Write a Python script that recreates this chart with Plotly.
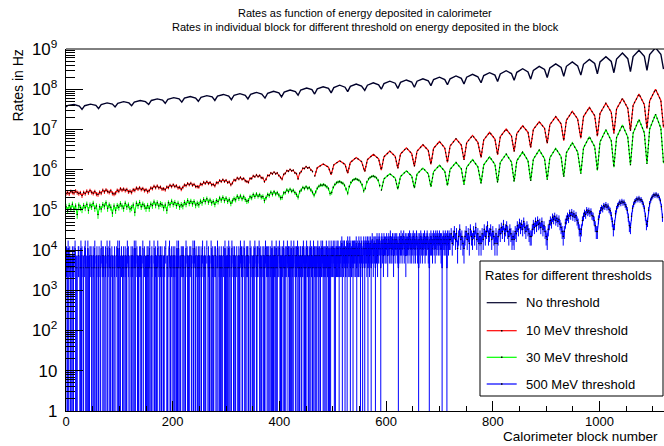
import math
import plotly.graph_objects as go

# ---------------- data ----------------
HZ_PER_COUNT = 3650.0  # rate of one count (quantised levels of the 500 MeV series)

# block numbers of the sampled points for the smooth oscillating curves
arch_x = [0, 4, 15, 25,
          30, 35, 46, 56, 61, 66, 77, 87, 92, 97, 108, 118, 123, 128, 139, 149,
          155, 160, 171, 181, 186, 191, 202, 212, 217, 222, 233, 243, 248, 253, 264, 274,
          279, 284, 295, 305, 310, 315, 326, 336, 341, 346, 357, 367, 373, 378, 389, 399,
          404, 409, 420, 430, 435, 440, 451, 461, 466, 471, 482, 492, 497, 502, 513, 523,
          528, 533, 544, 554, 560, 565, 576, 586, 591, 596, 607, 617, 622, 627, 638, 648,
          653, 658, 669, 679, 684, 689, 700, 710, 715, 720, 731, 741, 746, 751, 762, 772,
          778, 783, 794, 804, 809, 814, 825, 835, 840, 845, 856, 866, 871, 876, 887, 897,
          902, 907, 918, 928, 933, 938, 949, 959, 965, 970, 981, 991, 996, 1001, 1012, 1022,
          1027, 1032, 1043, 1053, 1058, 1063, 1074, 1084, 1089, 1094, 1105, 1115, 1120]

# No threshold: log10(rate in Hz)
no_threshold_log10 = [7.56, 7.60, 7.62, 7.58,
    7.50, 7.59, 7.63, 7.60, 7.52, 7.62, 7.66, 7.63, 7.56, 7.65, 7.69, 7.66,
    7.59, 7.68, 7.72, 7.69, 7.62, 7.72, 7.76, 7.73, 7.65, 7.75, 7.79, 7.76,
    7.68, 7.78, 7.82, 7.78, 7.70, 7.80, 7.84, 7.81, 7.72, 7.83, 7.87, 7.83,
    7.74, 7.85, 7.89, 7.85, 7.76, 7.87, 7.92, 7.88, 7.78, 7.90, 7.95, 7.91,
    7.81, 7.93, 7.98, 7.94, 7.85, 7.98, 8.03, 7.99, 7.88, 8.01, 8.06, 8.02,
    7.91, 8.04, 8.10, 8.05, 7.94, 8.07, 8.13, 8.08, 7.97, 8.10, 8.16, 8.11,
    8.00, 8.14, 8.20, 8.15, 8.02, 8.17, 8.23, 8.18, 8.05, 8.20, 8.26, 8.21,
    8.09, 8.24, 8.30, 8.24, 8.11, 8.26, 8.33, 8.27, 8.13, 8.30, 8.37, 8.31,
    8.16, 8.34, 8.41, 8.35, 8.19, 8.38, 8.46, 8.39, 8.22, 8.42, 8.51, 8.43,
    8.25, 8.47, 8.57, 8.49, 8.29, 8.53, 8.63, 8.54, 8.32, 8.57, 8.68, 8.58,
    8.35, 8.62, 8.74, 8.64, 8.38, 8.68, 8.81, 8.69, 8.41, 8.75, 8.90, 8.76,
    8.44, 8.81, 8.97, 8.82, 8.47, 8.86, 9.03, 8.87, 8.50]

# 10 MeV threshold: noisy low part (counts every 3 blocks), then smooth part (log10 Hz)
red_noisy_x = list(range(0, 463, 3))
red_noisy_counts = [70, 74, 69, 79, 75, 72, 81, 74, 70, 73,
    62, 74, 70, 80, 73, 83, 75, 71, 78, 68, 66,
    75, 72, 84, 77, 86, 79, 75, 82, 71, 68,
    72, 84, 80, 92, 85, 90, 83, 88, 77, 80,
    75, 87, 84, 96, 90, 98, 88, 93, 83, 87, 78,
    83, 96, 93, 106, 98, 108, 97, 101, 90, 92,
    87, 101, 99, 112, 104, 115, 105, 109, 97, 100, 89,
    99, 114, 110, 124, 116, 126, 113, 118, 105, 104,
    102, 120, 117, 133, 125, 137, 124, 131, 116, 118,
    109, 130, 129, 148, 139, 154, 140, 149, 132, 136, 116,
    128, 152, 149, 171, 161, 176, 159, 166, 145, 139,
    134, 166, 166, 192, 183, 202, 185, 196, 172, 171, 140,
    158, 196, 197, 226, 216, 237, 217, 226, 196, 176,
    160, 208, 222, 259, 252, 278, 256, 264, 229, 217,
    164, 222, 246, 295, 294, 326, 302, 310, 270, 248]
red_smooth_log10 = [5.83, 6.05, 6.14, 6.06, 5.87, 6.12, 6.22, 6.13,
    5.91, 6.18, 6.30, 6.20, 5.95, 6.25, 6.38, 6.27, 5.99, 6.32, 6.46, 6.33,
    6.03, 6.39, 6.54, 6.40, 6.08, 6.46, 6.62, 6.48, 6.13, 6.53, 6.70, 6.54,
    6.18, 6.59, 6.77, 6.61, 6.24, 6.67, 6.85, 6.68, 6.30, 6.74, 6.93, 6.76,
    6.37, 6.82, 7.01, 6.84, 6.45, 6.90, 7.09, 6.93, 6.55, 7.00, 7.19, 7.03,
    6.65, 7.12, 7.32, 7.14, 6.72, 7.23, 7.45, 7.26, 6.78, 7.32, 7.55, 7.34,
    6.83, 7.40, 7.65, 7.43, 6.90, 7.51, 7.77, 7.53, 6.96, 7.60, 7.88, 7.62,
    7.02, 7.71, 8.00, 7.72, 7.05]

# 30 MeV threshold
green_noisy_x = list(range(0, 589, 3))
green_noisy_counts = [33, 27, 35, 30, 38, 29, 34, 21, 36, 31,
    28, 35, 31, 38, 27, 36, 33, 40, 30, 34, 21,
    33, 29, 37, 34, 41, 30, 36, 32, 23, 34,
    27, 35, 32, 39, 34, 30, 40, 33, 36, 29,
    31, 36, 24, 40, 35, 42, 33, 38, 34, 30, 35,
    30, 38, 35, 43, 36, 41, 34, 39, 37, 31,
    36, 27, 41, 37, 45, 38, 42, 35, 40, 33, 37,
    34, 42, 38, 47, 40, 45, 39, 44, 36, 40,
    37, 45, 41, 50, 44, 52, 43, 48, 41, 44,
    38, 47, 44, 54, 48, 56, 47, 53, 45, 49, 40,
    46, 52, 49, 60, 53, 61, 52, 58, 50, 45,
    47, 58, 55, 66, 59, 68, 60, 65, 57, 59, 47,
    55, 66, 63, 75, 67, 77, 68, 73, 64, 55,
    56, 72, 74, 86, 79, 89, 80, 84, 74, 66,
    57, 77, 86, 99, 93, 103, 94, 98, 86, 75,
    64, 76, 95, 106, 114, 112, 117, 110, 103, 92, 70,
    74, 100, 118, 130, 135, 139, 131, 126, 112, 90,
    72, 105, 132, 148, 157, 163, 156, 150, 136, 115, 82,
    95, 135, 160, 176, 185, 190, 182, 170, 150, 110]
green_smooth_log10 = [5.48, 5.77, 5.90, 5.79, 5.51, 5.83, 5.97, 5.84,
    5.54, 5.89, 6.04, 5.90, 5.57, 5.95, 6.11, 5.96, 5.60, 6.01, 6.18, 6.02,
    5.63, 6.06, 6.25, 6.07, 5.66, 6.12, 6.32, 6.13, 5.68, 6.18, 6.39, 6.19,
    5.70, 6.22, 6.44, 6.22, 5.72, 6.26, 6.49, 6.27, 5.75, 6.30, 6.53, 6.32,
    5.82, 6.42, 6.67, 6.44, 5.90, 6.54, 6.82, 6.57, 5.98, 6.69, 6.99, 6.72,
    6.06, 6.80, 7.11, 6.81, 6.11, 6.91, 7.25, 6.92, 6.14, 7.01, 7.38, 7.03, 6.16]

# 500 MeV threshold: counts per block for blocks 0..719 (one digit per block)
blue_low_counts_text = """
1201310211 0121120310 1102201131 2011023110 1310120211 0211301120
1120113021 2101210312 0131102110 1210021311 3110201121 0211130210
1021120131 1302111021 2110310201 0121211301 1201031121 1130210211
2011120301 1102311021 0211201131 1310112021 2101130211 1120211031
0311201121 1201123011 2110301211 1031121102 2101310211 1211020131
0121131201 1302112110 2011211302 1120311021 2211031201 1121302112
2031121102 1211302121 2102113121 1221311202 3112102131 1212031221
2131121302 1221312112 2112231121 1322112131 2211312212 1231221132
2312122131 2213121322 2321312232 3212232413 2331223142 3241322313
2332413224 3214321343 1343241342 3413532434 1435243543 1453425434
3542453463 4354254354 5341453464 3546345245 4354635435 4635435643
5145364534 5463454653 4154645356 4536546545 6453514654 5645165465
"""
# and counts every 2 blocks for blocks 720..1118
blue_high_x = list(range(720, 1120, 2))
blue_high_counts = [5, 7, 4, 6, 8, 5, 7, 3, 6, 9, 5, 6, 4,
    3, 6, 8, 5, 7, 4, 9, 6, 5, 8, 6, 10, 5, 7, 4, 6,
    4, 7, 5, 9, 6, 8, 11, 6, 7, 9, 5, 8, 6, 4, 7,
    4, 6, 9, 7, 10, 8, 12, 7, 9, 11, 8, 6, 9, 7, 5, 6,
    5, 8, 7, 11, 9, 13, 10, 12, 9, 14, 10, 8, 11, 9, 7, 6,
    6, 9, 12, 10, 14, 11, 15, 12, 13, 10, 14, 9, 11, 8, 6,
    5, 9, 12, 15, 13, 18, 16, 19, 15, 17, 14, 16, 12, 10, 8, 6,
    8, 13, 16, 19, 17, 23, 20, 24, 19, 22, 18, 20, 15, 13, 9, 7,
    9, 15, 19, 23, 21, 27, 24, 26, 23, 25, 20, 19, 15, 11, 8,
    8, 16, 22, 27, 31, 29, 35, 33, 37, 32, 34, 28, 26, 20, 14, 9,
    12, 22, 29, 35, 38, 43, 40, 45, 41, 43, 37, 33, 27, 18, 11,
    10, 19, 30, 38, 44, 47, 52, 49, 54, 48, 50, 44, 38, 30, 19, 12,
    14, 27, 39, 48, 55, 60, 66, 62, 68, 61, 63, 55, 46, 33, 18]

legend_labels = ["No threshold", "10 MeV threshold", "30 MeV threshold", "500 MeV threshold"]
series_colors = ["#00002a", "#ff0000", "#00ff00", "#0000ff"]

# ---------------- helpers ----------------
def counts_to_rate(counts):
    return [c * HZ_PER_COUNT if c > 0 else None for c in counts]

def counts_to_err(counts):
    return [math.sqrt(c) * HZ_PER_COUNT for c in counts]

def from_log10(vals):
    return [10 ** v for v in vals]

blue_low_counts = [int(ch) for ch in "".join(blue_low_counts_text.split())]
blue_low_x = list(range(len(blue_low_counts)))
red_smooth_x = arch_x[arch_x.index(466):]
green_smooth_x = arch_x[arch_x.index(591):]

assert len(arch_x) == len(no_threshold_log10)
assert len(red_noisy_x) == len(red_noisy_counts)
assert len(green_noisy_x) == len(green_noisy_counts)
assert len(red_smooth_x) == len(red_smooth_log10)
assert len(green_smooth_x) == len(green_smooth_log10)
assert len(blue_high_x) == len(blue_high_counts)

# ---------------- figure ----------------
W, H = 664, 446
ML, MR, MT, MB = 66, 0, 49, 35
PW, PH = W - ML - MR, H - MT - MB

def px(x):
    return (x - ML) / PW

def py(y):
    return (H - MB - y) / PH

FONT = "Liberation Sans, Arial, Helvetica, sans-serif"
fig = go.Figure()

def noisy_trace(x, counts, color, shape="linear", msize=1.6, mcolor="black"):
    return go.Scatter(
        x=x, y=counts_to_rate(counts), mode="lines+markers",
        line=dict(color=color, width=1, shape=shape),
        marker=dict(color=mcolor, size=msize, line=dict(width=0)),
        error_y=dict(type="data", symmetric=True, array=counts_to_err(counts),
                     color=color, thickness=1, width=0),
        connectgaps=False, hoverinfo="skip", showlegend=False)

def smooth_traces(x, logs, color):
    return [
        go.Scatter(x=x, y=from_log10(logs), mode="lines",
                   line=dict(color=color, width=1.2), hoverinfo="skip", showlegend=False),
        go.Scatter(x=x, y=from_log10(logs), mode="lines",
                   line=dict(color="black", width=1.1, dash="1.5px,2.5px"),
                   hoverinfo="skip", showlegend=False),
    ]

fig.add_trace(go.Scatter(x=arch_x, y=from_log10(no_threshold_log10), mode="lines",
                         line=dict(color=series_colors[0], width=1.4),
                         hoverinfo="skip", showlegend=False))
fig.add_trace(noisy_trace(red_noisy_x, red_noisy_counts, series_colors[1], msize=1.5))
for tr in smooth_traces(red_smooth_x, red_smooth_log10, series_colors[1]):
    fig.add_trace(tr)
fig.add_trace(noisy_trace(green_noisy_x, green_noisy_counts, series_colors[2], msize=1.5))
for tr in smooth_traces(green_smooth_x, green_smooth_log10, series_colors[2]):
    fig.add_trace(tr)
fig.add_trace(noisy_trace(blue_low_x, blue_low_counts, series_colors[3], shape="hvh",
                          msize=1.2, mcolor="rgba(0,0,0,0.45)"))
fig.add_trace(noisy_trace(blue_high_x, blue_high_counts, series_colors[3], msize=1.5))

# ---------------- legend (drawn by hand, ROOT TLegend style) ----------------
shapes = [
    dict(type="line", xref="paper", yref="paper", x0=0, x1=1.02, y0=1, y1=1,
         line=dict(color="black", width=1), layer="above"),
    dict(type="rect", xref="paper", yref="paper", x0=px(480), x1=px(663),
         y0=py(396), y1=py(261), fillcolor="white",
         line=dict(color="black", width=1), layer="above"),
]
annotations = []
rows = [302.7, 330.7, 357.3, 384.0]
for i, (lab, col) in enumerate(zip(legend_labels, series_colors)):
    yy = py(rows[i])
    shapes.append(dict(type="line", xref="paper", yref="paper", x0=px(486.7), x1=px(516.7),
                       y0=yy, y1=yy, line=dict(color=col, width=1.2), layer="above"))
    if i > 0:
        shapes.append(dict(type="line", xref="paper", yref="paper", x0=px(501), x1=px(502.5),
                           y0=yy, y1=yy, line=dict(color="black", width=1.6), layer="above"))
    annotations.append(dict(x=px(524), y=yy, xref="paper", yref="paper", text=lab,
                            showarrow=False, xanchor="left", yanchor="middle",
                            font=dict(family=FONT, size=13, color="black")))
annotations.append(dict(x=px(568), y=py(275), xref="paper", yref="paper",
                        text="Rates for different thresholds", showarrow=False,
                        xanchor="center", yanchor="middle",
                        font=dict(family=FONT, size=13, color="black")))

# titles
annotations += [
    dict(x=px(365), y=py(13), xref="paper", yref="paper",
         text="Rates as function of energy deposited in calorimeter",
         showarrow=False, xanchor="center", yanchor="middle",
         font=dict(family=FONT, size=11, color="black")),
    dict(x=px(365), y=py(27.5), xref="paper", yref="paper",
         text="Rates in individual block for different threshold on energy deposited in the block",
         showarrow=False, xanchor="center", yanchor="middle",
         font=dict(family=FONT, size=11, color="black")),
    dict(x=px(17.5), y=py(48), xref="paper", yref="paper", text="Rates in Hz",
         textangle=-90, showarrow=False, xanchor="center", yanchor="top",
         font=dict(family=FONT, size=14, color="black")),
    dict(x=px(660), y=py(446), xref="paper", yref="paper", text="Calorimeter block number",
         showarrow=False, xanchor="right", yanchor="bottom",
         font=dict(family=FONT, size=13.5, color="black")),
]

fig.update_layout(
    width=W, height=H, autosize=False,
    margin=dict(l=ML, r=MR, t=MT, b=MB, pad=0),
    paper_bgcolor="white", plot_bgcolor="white",
    showlegend=False, shapes=shapes, annotations=annotations,
    font=dict(family=FONT, size=13, color="black"),
    xaxis=dict(range=[0, PW / 0.5335], showline=True, linecolor="black", linewidth=1,
               mirror=False, showgrid=False, zeroline=False,
               ticks="inside", ticklen=10, tickcolor="black", tickwidth=1,
               tick0=0, dtick=200, tickfont=dict(family=FONT, size=13),
               ticklabelstandoff=-2,
               minor=dict(ticks="inside", ticklen=5, dtick=50, tickcolor="black", showgrid=False)),
    yaxis=dict(type="log", range=[0, 9], showline=True, linecolor="black", linewidth=1,
               mirror=False, showgrid=False, zeroline=False,
               ticks="inside", ticklen=17, tickcolor="black", tickwidth=1,
               dtick=1, exponentformat="power", ticklabelstandoff=5,
               tickfont=dict(family=FONT, size=13.5),
               minor=dict(ticks="inside", ticklen=9, dtick="D1", tickcolor="black", showgrid=False)),
)

fig.write_html("out.html", config={"displayModeBar": False})
